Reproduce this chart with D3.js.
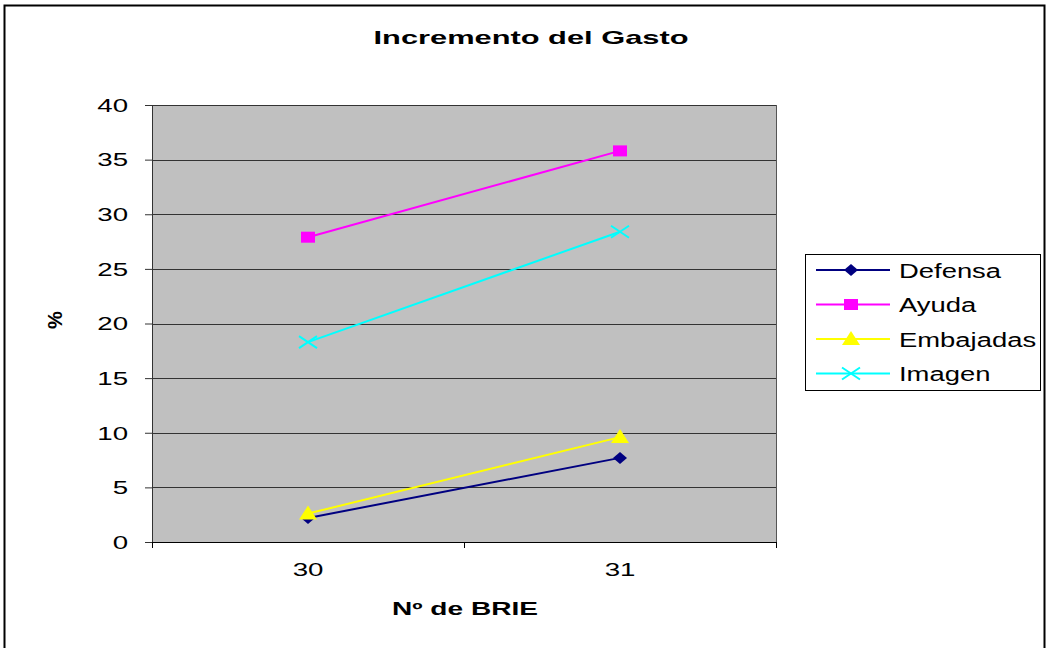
<!DOCTYPE html>
<html><head><meta charset="utf-8">
<script src="https://cdn.jsdelivr.net/npm/d3@7"></script>
<style>body{margin:0;background:#fff}svg{display:block;font-family:"Liberation Sans",Arial,sans-serif}</style>
</head><body><svg id="c" width="1048" height="648"></svg>
<script>
const categories = ["30", "31"];
const seriesNames = ["Defensa", "Ayuda", "Embajadas", "Imagen"];
const defensa = [2.2, 7.7];
const ayuda = [27.9, 35.8];
const embajadas = [2.6, 9.6];
const imagen = [18.3, 28.4];
const yTicks = [0, 5, 10, 15, 20, 25, 30, 35, 40];
const colors = ["#000080", "#FF00FF", "#FFFF00", "#00FFFF"];
const symbols = ["diamond", "square", "triangle", "x"];
const series = [defensa, ayuda, embajadas, imagen];

const svg = d3.select("#c");
svg.append("rect").attr("x",4.5).attr("y",5.5).attr("width",1040).attr("height",660)
  .attr("fill","#fff").attr("stroke","#000").attr("stroke-width",2);

function stretch(sel, f){
  sel.each(function(){
    const w = this.getComputedTextLength();
    d3.select(this).attr("textLength", w*f).attr("lengthAdjust","spacingAndGlyphs");
  });
}

const L=152, R=776, T=105, B=542;
const x = d3.scaleBand().domain(categories).range([L,R]);
const y = d3.scaleLinear().domain([0,40]).range([B,T]);

svg.append("rect").attr("x",L).attr("y",T).attr("width",R-L).attr("height",B-T).attr("fill","#C0C0C0");
svg.append("g").selectAll("line").data(yTicks.filter(d=>d>0)).join("line")
  .attr("x1",L).attr("x2",R).attr("y1",d=>Math.round(y(d))+0.5).attr("y2",d=>Math.round(y(d))+0.5)
  .attr("stroke","#333").attr("stroke-width",1);
svg.append("line").attr("x1",R+0.5).attr("x2",R+0.5).attr("y1",T).attr("y2",B).attr("stroke","#555");

const ya = svg.append("g").attr("transform",`translate(${L},0)`)
  .call(d3.axisLeft(y).tickValues(yTicks).tickSize(7).tickPadding(17).tickFormat(d3.format("d")));
ya.select(".domain").attr("stroke","#333");
ya.selectAll("line").attr("stroke","#333");
ya.selectAll("text").attr("font-size",17.5).attr("font-family","Liberation Sans, Arial").attr("fill","#000")
  .attr("dy","0.36em");
stretch(ya.selectAll("text"), 1.58);

const xa = svg.append("g").attr("transform",`translate(0,${B})`)
  .call(d3.axisBottom(x).tickSize(0).tickPadding(22));
xa.select(".domain").attr("stroke","#000");
xa.selectAll("text").attr("font-size",17.5).attr("font-family","Liberation Sans, Arial").attr("fill","#000");
stretch(xa.selectAll("text"), 1.58);
const bounds = [L, L + x.step(), R];
svg.append("g").selectAll("line").data(bounds).join("line")
  .attr("x1",d=>d+0.5).attr("x2",d=>d+0.5).attr("y1",B).attr("y2",B+6).attr("stroke","#000");

function marker(g, sym, cx, cy, color){
  if(sym==="diamond"){
    g.append("path").attr("d",`M${cx},${cy-6}L${cx+7},${cy}L${cx},${cy+6}L${cx-7},${cy}Z`).attr("fill",color);
  } else if(sym==="square"){
    g.append("rect").attr("x",cx-7).attr("y",cy-5.5).attr("width",14).attr("height",11).attr("fill",color);
  } else if(sym==="triangle"){
    g.append("path").attr("d",`M${cx},${cy-8}L${cx+9},${cy+6}L${cx-9},${cy+6}Z`).attr("fill",color);
  } else {
    g.append("path").attr("d",`M${cx-9},${cy-6}L${cx+9},${cy+6}M${cx-9},${cy+6}L${cx+9},${cy-6}`)
      .attr("stroke",color).attr("stroke-width",2).attr("fill","none");
  }
}

const line = d3.line().x((d,i)=>x(categories[i])+x.bandwidth()/2).y(d=>y(d));
series.forEach((s,k)=>{
  const g = svg.append("g");
  g.append("path").datum(s).attr("d",line).attr("fill","none").attr("stroke",colors[k]).attr("stroke-width",2);
  s.forEach((v,i)=>marker(g, symbols[k], x(categories[i])+x.bandwidth()/2, y(v), colors[k]));
});

const t1 = svg.append("text").attr("x",531).attr("y",44).attr("text-anchor","middle").attr("font-size",19)
  .attr("font-weight","bold").text("Incremento del Gasto");
t1.attr("textLength",315).attr("lengthAdjust","spacingAndGlyphs");
const t2 = svg.append("text").attr("x",465).attr("y",615).attr("text-anchor","middle").attr("font-size",18)
  .attr("font-weight","bold").text("Nº de BRIE");
stretch(t2, 1.56);
svg.append("text").attr("transform","translate(62,320) rotate(-90)").attr("text-anchor","middle")
  .attr("font-size",20).attr("font-weight","bold").text("%");

const lg = svg.append("g");
lg.append("rect").attr("x",805.5).attr("y",254.5).attr("width",235).attr("height",136)
  .attr("fill","#fff").attr("stroke","#000");
seriesNames.forEach((n,k)=>{
  const cy = 270 + k*34.5;
  lg.append("line").attr("x1",816).attr("x2",890).attr("y1",cy).attr("y2",cy).attr("stroke",colors[k]).attr("stroke-width",2);
  marker(lg, symbols[k], 851, cy, colors[k]);
  const tx = lg.append("text").attr("x",899).attr("y",cy+7.5).attr("font-size",20).text(n);
  stretch(tx, 1.37);
});
</script></body></html>
